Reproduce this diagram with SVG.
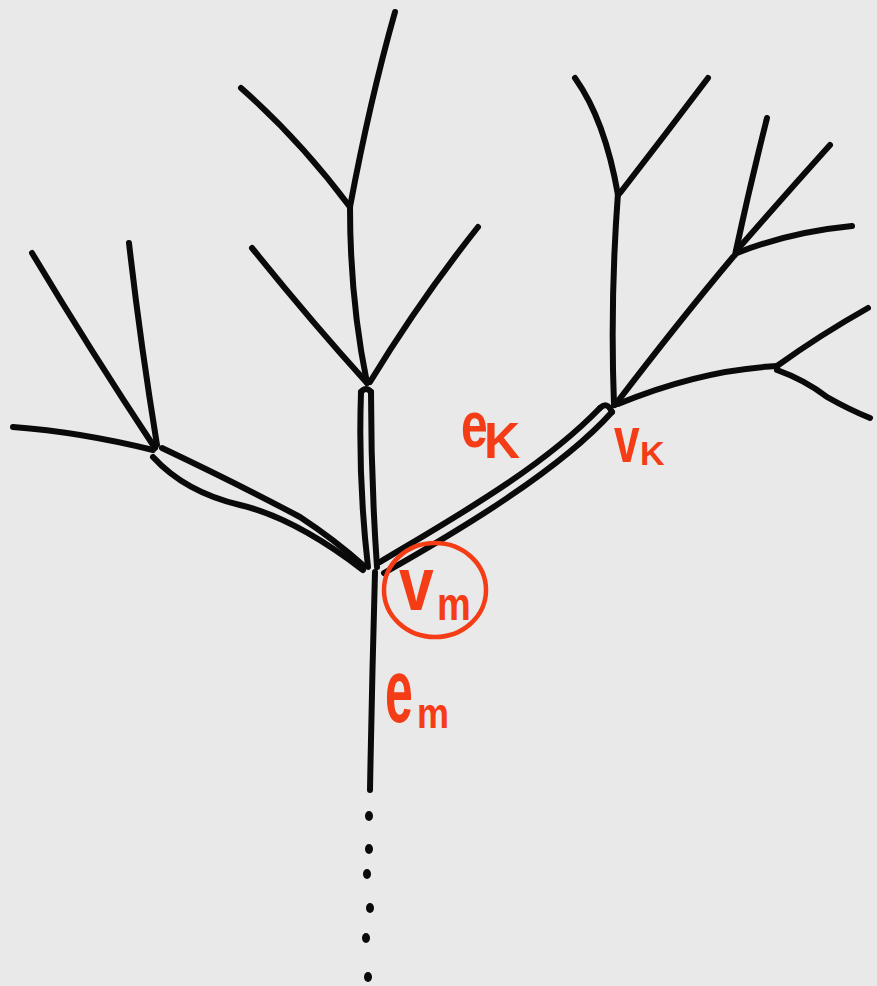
<svg xmlns="http://www.w3.org/2000/svg" width="877" height="986" viewBox="0 0 877 986">
<style>
.b{fill:none;stroke:#0a0a0a;stroke-width:6;stroke-linecap:round;stroke-linejoin:round}
.d{fill:#0a0a0a}
.lbl{fill:#f43d16;font-family:"Liberation Sans",Arial,sans-serif;font-weight:bold}
.ring{fill:none;stroke:#f43d16;stroke-width:4.5}
</style>
<rect width="877" height="986" fill="#e9e9e9"/>
<g id="connectors">
  <path class="b" d="M375,572 Q372,680 370,790"/>
  <g id="trunk-dots">
    <ellipse class="d" cx="369" cy="816" rx="4" ry="5"/>
    <ellipse class="d" cx="369" cy="849" rx="4" ry="5"/>
    <ellipse class="d" cx="367" cy="874" rx="4" ry="5"/>
    <ellipse class="d" cx="370" cy="908" rx="4" ry="5"/>
    <ellipse class="d" cx="366" cy="938" rx="4" ry="5"/>
    <ellipse class="d" cx="368" cy="977" rx="4" ry="5"/>
  </g>
  <path class="b" d="M361,392 Q358,480 368,567"/>
  <path class="b" d="M371,392 Q371,480 377,567"/>
  <path class="b" d="M361,392 Q366,386 371,392"/>
  <path class="b" d="M367,383 Q310,320 252,248"/>
  <path class="b" d="M370,382 Q420,300 478,227"/>
  <path class="b" d="M367,383 Q350,300 350,207"/>
  <path class="b" d="M350,207 Q300,140 241,88"/>
  <path class="b" d="M350,207 Q370,100 395,12"/>
  <path class="b" d="M162,448 Q240,485 300,517 Q335,540 364,566"/>
  <path class="b" d="M153,457 Q185,492 240,505 T363,570"/>
  <path class="b" d="M155,448 Q90,350 32,253"/>
  <path class="b" d="M157,445 Q140,340 129,243"/>
  <path class="b" d="M153,450 Q80,432 13,427"/>
  <path class="b" d="M380,562 C450,520 540,470 600,408"/>
  <path class="b" d="M384,573 C460,530 560,470 612,412"/>
  <path class="b" d="M600,408 Q607,401 612,412"/>
  <path class="b" d="M614,405 Q610,300 618,193"/>
  <path class="b" d="M618,195 Q605,120 575,78"/>
  <path class="b" d="M620,193 Q665,135 708,78"/>
  <path class="b" d="M615,405 Q680,320 733,257"/>
  <path class="b" d="M735,255 Q750,185 767,118"/>
  <path class="b" d="M737,250 Q785,195 830,145"/>
  <path class="b" d="M737,253 Q790,232 852,226"/>
  <path class="b" d="M618,404 Q700,370 777,366"/>
  <path class="b" d="M777,366 Q820,335 868,308"/>
  <path class="b" d="M777,370 Q805,380 827,397 Q850,410 870,418"/>
  <g id="label-ek">
    <text class="lbl" font-size="48" transform="translate(461,447) scale(1,1.35)">e</text>
    <text class="lbl" font-size="50" x="484" y="458">K</text>
  </g>
  <g id="label-em">
    <text class="lbl" font-size="50" transform="translate(385,722) scale(1,1.8)">e</text>
    <text class="lbl" font-size="36" transform="translate(417,728) scale(1,1.2)">m</text>
  </g>
</g>
<g id="node-vk">
  <text class="lbl" font-size="46" transform="translate(614,462) scale(1,1.4)">v</text>
  <text class="lbl" font-size="34" x="640" y="465">K</text>
</g>
<g id="node-vm">
  <ellipse class="ring" cx="435" cy="590" rx="51" ry="47"/>
  <text class="lbl" font-size="48" transform="translate(399,610) scale(1.3,1.6)">v</text>
  <text class="lbl" font-size="38" transform="translate(437,620) scale(1,1.2)">m</text>
</g>
</svg>
